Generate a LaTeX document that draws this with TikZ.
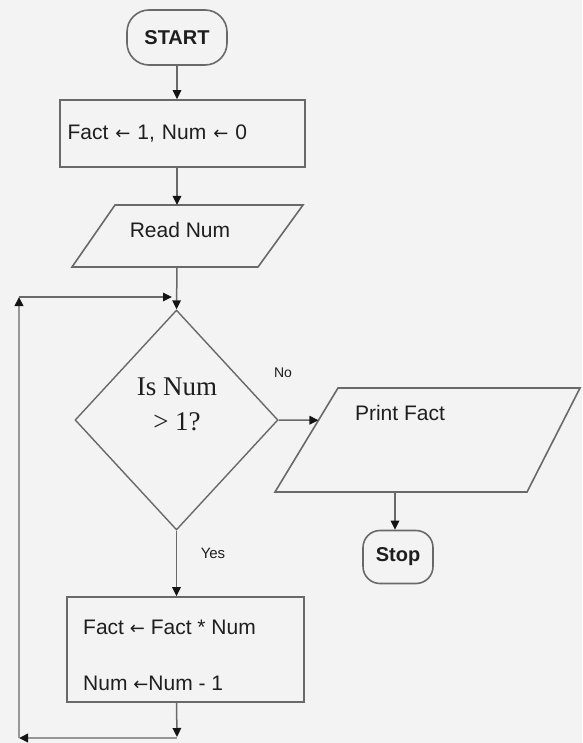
\documentclass[tikz,border=0pt]{standalone}
\usepackage{fontspec}
\setmainfont{Liberation Sans}
\newfontfamily\serifit{Liberation Serif}
\newfontfamily\arrfont{DejaVu Sans}
\usetikzlibrary{shapes.geometric,arrows.meta,calc}
\definecolor{bg}{RGB}{243,243,243}
\definecolor{ln}{RGB}{105,105,105}
\definecolor{lnlight}{RGB}{150,150,150}
\definecolor{tx}{RGB}{30,30,30}
\definecolor{tip}{RGB}{20,20,20}
\newcommand{\la}{{\arrfont\fontsize{18}{20}\selectfont ←}}
\begin{document}
\begin{tikzpicture}[x=1pt,y=-1pt,
  line/.style={draw=ln, line width=1.6pt, line join=miter},
  arr/.style={draw=ln, line width=1.5pt, -{Triangle[length=9pt,width=8.5pt,color=tip]}},
  looparr/.style={draw=lnlight, line width=2pt, -{Triangle[length=9pt,width=8.5pt,color=tip]}},
  term/.style={draw=ln, line width=1.6pt, rectangle, inner sep=0, text=tx, font=\bfseries\fontsize{20}{22}\selectfont},
  procbox/.style={draw=ln, line width=1.6pt, rectangle, inner sep=0},
  decide/.style={draw=ln, line width=1.4pt, diamond, inner sep=1pt},
  txt/.style={text=tx, inner sep=0, font=\fontsize{21}{24}\selectfont},
  small/.style={text=tx, inner sep=0, font=\fontsize{14}{16}\selectfont}]
\path[fill=bg] (0,0) rectangle (582,743);
\useasboundingbox (0,0) rectangle (582,743);

% terminals and boxes
\node[term, rounded corners=22pt, minimum width=100pt, minimum height=55pt] (start) at (177,37.5) {START};
\node[procbox, txt, minimum width=245pt, minimum height=67pt, text width=230pt, align=left] (init) at (182.5,133.5) {Fact \la{} 1, Num \la{} 0};

% Read Num parallelogram
\coordinate (rtl) at (115,205); \coordinate (rtr) at (303,205);
\coordinate (rbr) at (258,267); \coordinate (rbl) at (72,267);
\draw[line] (rtl) -- (rtr) -- (rbr) -- (rbl) -- cycle;
\node[txt] (readt) at (180,230) {Read Num};

% decision
\node[decide, minimum width=203pt, minimum height=220pt] (dec) at (176.5,420) {};
\node[text=tx, inner sep=0, font=\serifit\fontsize{27}{35}\selectfont, align=center] (dect) at (177,404) {Is Num\\> 1?};

% Print Fact parallelogram
\coordinate (ptl) at (338,388); \coordinate (ptr) at (580,388);
\coordinate (pbr) at (527,492); \coordinate (pbl) at (275,492);
\draw[line] (ptl) -- (ptr) -- (pbr) -- (pbl) -- cycle;
\node[txt] (pft) at (400,413) {Print Fact};

\node[term, rounded corners=17pt, minimum width=70pt, minimum height=53pt] (stop) at (398,557) {Stop};
\node[procbox, minimum width=237pt, minimum height=105pt] (calc) at (185.5,649.5) {};
\node[txt, anchor=west] (c1t) at (83,627) {Fact \la{} Fact * Num};
\node[txt, anchor=west] (c2t) at (83,683) {Num \la{}Num - 1};
\node[small] (no) at (283,373) {No};
\node[small, font=\fontsize{15}{17}\selectfont] (yes) at (213,553) {Yes};

% connector ends
\coordinate (rin) at (177,205);
\coordinate (rout) at (177,267);
\coordinate (pin) at ($(pbl)!0.69!(ptl)$);
\coordinate (pout) at (395,492);
\coordinate (lb) at (177,737);
\coordinate (ll) at (19,738);
\coordinate (lt) at (19,297);
\coordinate (lr) at (172,297);

% connectors
\draw[arr] (start.south) -- (start.south |- init.north);
\draw[arr] (init.south -| start.south) -- (rin);
\draw[arr] (rout) -- (dec.north);
\draw[arr] (dec.east) -- (pin);
\draw[arr] (pout) -- (pout |- stop.north);
\draw[arr] (dec.south) -- (dec.south |- calc.north);
\draw[arr] (calc.south -| dec.south) -- (lb);
\draw[looparr] (dec.south |- ll) -- (ll);
\draw[looparr] (ll) -- (lt);
\draw[arr] (lt) -- (lr);
\end{tikzpicture}
\end{document}
